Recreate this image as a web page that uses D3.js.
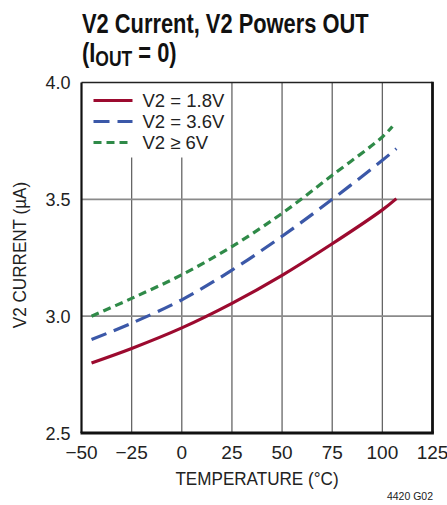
<!DOCTYPE html>
<html>
<head>
<meta charset="utf-8">
<script src="https://cdn.jsdelivr.net/npm/d3@7"></script>
<style>
  body { margin: 0; background: #fff; }
  text { font-family: "Liberation Sans", Arial, sans-serif; }
</style>
</head>
<body>
<div id="painting"></div>
<script>
// values
var temp_18 = [-45, -25, 0, 25, 50, 75, 100, 107];
var cur_18 = [2.80, 2.862, 2.95, 3.055, 3.175, 3.31, 3.455, 3.503];
var temp_36 = [-45, -25, 0, 25, 50, 75, 100, 107];
var cur_36 = [2.90, 2.97, 3.07, 3.197, 3.342, 3.50, 3.667, 3.717];
var temp_6 = [-45, -25, 0, 25, 50, 75, 100, 105];
var cur_6 = [3.00, 3.076, 3.177, 3.298, 3.44, 3.603, 3.767, 3.812];

var x_ticks = [-50, -25, 0, 25, 50, 75, 100, 125];
var y_ticks = [2.5, 3.0, 3.5, 4.0];
var series_names = ["V2 = 1.8V", "V2 = 3.6V", "V2 \u2265 6V"];
var series_colours = ["#9c0a2f", "#3b58a8", "#2f8a48"];
var series_dash = [null, "16,8", "8,5"];

var W = 447, H = 505;
var margin = {top: 82.5, right: 14.5, bottom: 72, left: 81.5};
var w = W - margin.left - margin.right;
var h = H - margin.top - margin.bottom;

var svg = d3.select("#painting").append("svg")
  .attr("width", W)
  .attr("height", H);

var xScale = d3.scaleLinear().domain([-50, 125]).range([0, w]);
var yScale = d3.scaleLinear().domain([2.5, 4.0]).range([h, 0]);

var g = svg.append("g")
  .attr("transform", "translate(" + margin.left + "," + margin.top + ")");

// gridlines
var legendBottom = 75; // legend box hides the top of the first grid lines
g.selectAll(".vgrid")
  .data(x_ticks.slice(1, -1))
  .enter().append("line")
  .attr("x1", function(d) { return xScale(d); })
  .attr("x2", function(d) { return xScale(d); })
  .attr("y1", function(d) { return d <= 0 ? legendBottom : 0; })
  .attr("y2", h)
  .attr("stroke", "#666")
  .attr("stroke-width", 1.3);

g.selectAll(".hgrid")
  .data(y_ticks.slice(1, -1))
  .enter().append("line")
  .attr("x1", 0)
  .attr("x2", w)
  .attr("y1", function(d) { return yScale(d); })
  .attr("y2", function(d) { return yScale(d); })
  .attr("stroke", "#8a8a8a")
  .attr("stroke-width", 1.8);

// curves
var all_series = [
  d3.zip(temp_18, cur_18),
  d3.zip(temp_36, cur_36),
  d3.zip(temp_6, cur_6)
];
var line = d3.line()
  .x(function(d) { return xScale(d[0]); })
  .y(function(d) { return yScale(d[1]); })
  .curve(d3.curveCatmullRom);

all_series.forEach(function(s, i) {
  g.append("path")
    .datum(s)
    .attr("d", line)
    .attr("fill", "none")
    .attr("stroke", series_colours[i])
    .attr("stroke-width", 3.2)
    .attr("stroke-dasharray", series_dash[i]);
});

// frame
g.append("line").attr("x1", 0).attr("x2", w).attr("y1", 0).attr("y2", 0)
  .attr("stroke", "#222").attr("stroke-width", 1.5);
g.append("line").attr("x1", 0).attr("x2", 0).attr("y1", 0).attr("y2", h)
  .attr("stroke", "#111").attr("stroke-width", 2.2);
g.append("line").attr("x1", w).attr("x2", w).attr("y1", -0.7).attr("y2", h)
  .attr("stroke", "#111").attr("stroke-width", 2.8);
g.append("line").attr("x1", -1).attr("x2", w + 1.4).attr("y1", h).attr("y2", h)
  .attr("stroke", "#111").attr("stroke-width", 2.8);

// legend
var leg = g.append("g").attr("transform", "translate(12,18)");
series_names.forEach(function(name, i) {
  var yy = i * 21;
  leg.append("line")
    .attr("x1", 0).attr("x2", 39)
    .attr("y1", yy).attr("y2", yy)
    .attr("stroke", series_colours[i])
    .attr("stroke-width", 3.2)
    .attr("stroke-dasharray", series_dash[i]);
  leg.append("text")
    .attr("x", 49).attr("y", yy + 6.5)
    .attr("font-size", 18.5)
    .attr("fill", "#222")
    .text(name);
});

// axes labels
g.selectAll(".xtick")
  .data(x_ticks)
  .enter().append("text")
  .attr("x", function(d) { return xScale(d); })
  .attr("y", h + 26)
  .attr("text-anchor", "middle")
  .attr("font-size", 19)
  .attr("fill", "#222")
  .text(function(d) { return d < 0 ? "\u2212" + Math.abs(d) : d; });

g.selectAll(".ytick")
  .data(y_ticks)
  .enter().append("text")
  .attr("x", -11)
  .attr("y", function(d) { return yScale(d) + 6.5; })
  .attr("text-anchor", "end")
  .attr("font-size", 18)
  .attr("fill", "#222")
  .text(function(d) { return d.toFixed(1); });

svg.append("g")
  .attr("transform", "translate(" + (margin.left + w / 2) + ",485) scale(0.9,1)")
  .append("text")
  .attr("text-anchor", "middle")
  .attr("font-size", 19)
  .attr("fill", "#222")
  .text("TEMPERATURE (\u00B0C)");

svg.append("g")
  .attr("transform", "translate(26,255) rotate(-90) scale(0.9,1)")
  .append("text")
  .attr("text-anchor", "middle")
  .attr("font-size", 19)
  .attr("fill", "#222")
  .text("V2 CURRENT (\u00B5A)");

svg.append("text")
  .attr("x", 433)
  .attr("y", 500)
  .attr("text-anchor", "end")
  .attr("font-size", 10.5)
  .attr("fill", "#222")
  .text("4420 G02");

// title, condensed
var title = svg.append("g").attr("transform", "translate(82,0) scale(0.795,1)");
title.append("text")
  .attr("y", 33)
  .attr("font-size", 27.5)
  .attr("font-weight", "bold")
  .attr("fill", "#111")
  .text("V2 Current, V2 Powers OUT");

var t2 = title.append("text")
  .attr("y", 62)
  .attr("font-size", 27.5)
  .attr("font-weight", "bold")
  .attr("fill", "#111");
t2.append("tspan").text("(I");
t2.append("tspan").attr("font-size", 22).attr("dy", 4).text("OUT");
t2.append("tspan").attr("dy", -4).text(" = 0)");
</script>
</body>
</html>
